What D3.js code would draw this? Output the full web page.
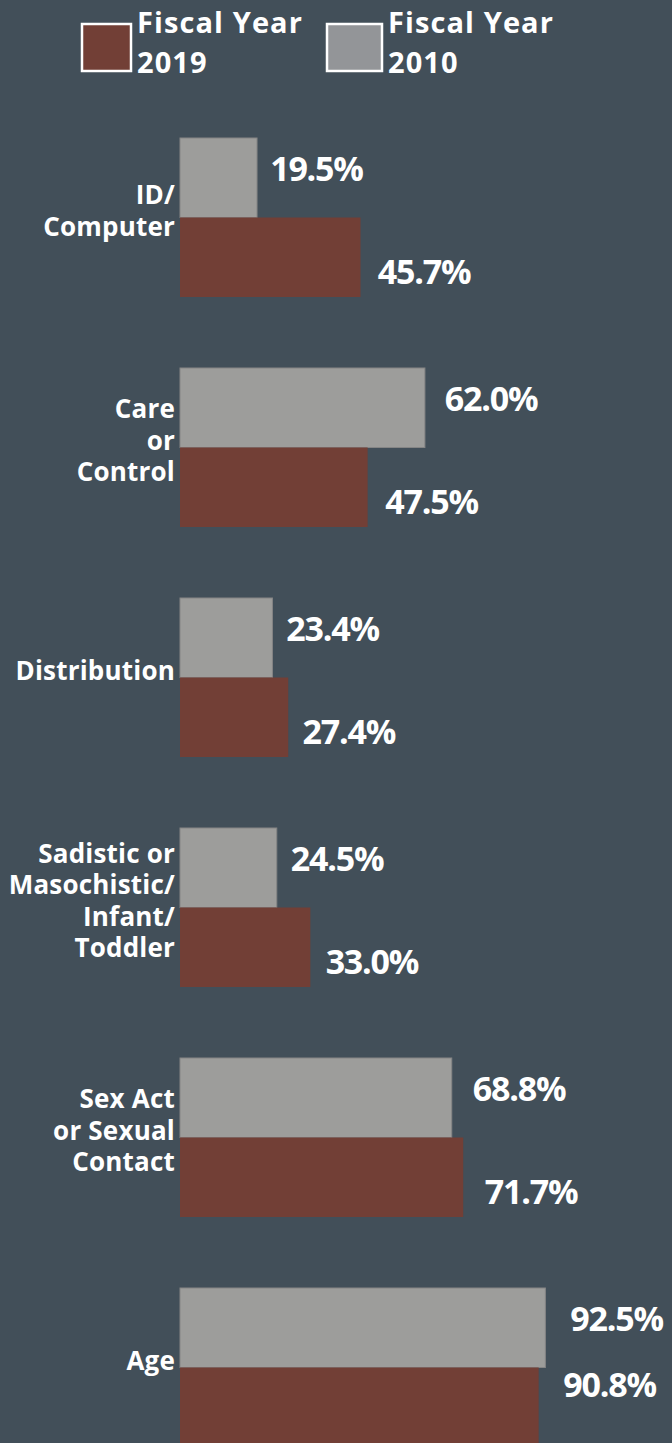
<!DOCTYPE html>
<html>
<head>
<meta charset="utf-8">
<script src="https://cdn.jsdelivr.net/npm/d3@7"></script>
<style>
  html, body { margin: 0; padding: 0; background: #424f59; }
  svg { display: block; }
  text { font-family: "Open Sans", sans-serif; font-weight: 700; fill: #fff; }
</style>
</head>
<body>
<script>
// categories, one line per array entry
var categories = [
  ["ID/", "Computer"],
  ["Care", "or", "Control"],
  ["Distribution"],
  ["Sadistic or", "Masochistic/", "Infant/", "Toddler"],
  ["Sex Act", "or Sexual", "Contact"],
  ["Age"]
];
var fy2010 = [19.5, 62.0, 23.4, 24.5, 68.8, 92.5];
var fy2019 = [45.7, 47.5, 27.4, 33.0, 71.7, 90.8];
var seriesNames = [["Fiscal Year", "2019"], ["Fiscal Year", "2010"]];

var W = 672, H = 1443;
var colBrown = "#723f36", colGray = "#9d9d9b";

var svg = d3.select("body").append("svg")
  .attr("width", W)
  .attr("height", H);

var x = d3.scaleLinear().domain([0, 100]).range([180, 575]);

// step 230, pair of bars 159 tall
var n = categories.length;
var y = d3.scaleBand()
  .domain(d3.range(n))
  .range([138, 138 + 230 * (n - 1) + 159])
  .paddingInner(71 / 230)
  .paddingOuter(0);

var barH = y.bandwidth() / 2;

// legend
var legend = svg.append("g");
var legendItems = [
  { name: seriesNames[0], color: colBrown, x: 82, w: 49 },
  { name: seriesNames[1], color: "#939598", x: 327, w: 55 }
];
legendItems.forEach(function (d) {
  legend.append("rect")
    .attr("x", d.x).attr("y", 24)
    .attr("width", d.w).attr("height", 47)
    .attr("fill", d.color)
    .attr("stroke", "#fff")
    .attr("stroke-width", 2.5);
  legend.append("text")
    .attr("x", d.x + d.w + 6)
    .attr("y", 33)
    .style("font-size", "29px")
    .style("letter-spacing", "1.1px")
    .text(d.name[0]);
  legend.append("text")
    .attr("x", d.x + d.w + 6)
    .attr("y", 73)
    .style("font-size", "29px")
    .style("letter-spacing", "1.1px")
    .text(d.name[1]);
});

var groups = svg.selectAll(".grp")
  .data(categories)
  .enter().append("g")
  .attr("class", "grp");

// 2010 bars (top)
groups.append("rect")
  .attr("x", x(0))
  .attr("y", function (d, i) { return y(i); })
  .attr("width", function (d, i) { return x(fy2010[i]) - x(0); })
  .attr("height", barH)
  .attr("fill", colGray)
  .attr("stroke", "#858585")
  .attr("stroke-width", 1);

// 2019 bars (bottom)
groups.append("rect")
  .attr("x", x(0))
  .attr("y", function (d, i) { return y(i) + barH; })
  .attr("width", function (d, i) { return x(fy2019[i]) - x(0); })
  .attr("height", barH)
  .attr("fill", colBrown);

// value labels
function labelOffset(v) { return 10 + v * 0.16; }

groups.append("text")
  .attr("x", function (d, i) { return x(fy2010[i]) + labelOffset(fy2010[i]); })
  .attr("y", function (d, i) { return y(i) + barH / 2 - 9; })
  .attr("dy", "0.36em")
  .style("font-size", "34px")
  .style("letter-spacing", "-1.2px")
  .text(function (d, i) { return fy2010[i].toFixed(1) + "%"; });

groups.append("text")
  .attr("x", function (d, i) { return x(fy2019[i]) + labelOffset(fy2019[i]); })
  // keep the lowest label inside the picture
  .attr("y", function (d, i) { return Math.min(y(i) + barH * 1.5 + 15, H - 58); })
  .attr("dy", "0.36em")
  .style("font-size", "34px")
  .style("letter-spacing", "-1.2px")
  .text(function (d, i) { return fy2019[i].toFixed(1) + "%"; });

// category labels
var lineH = 31.5;
groups.append("text")
  .attr("text-anchor", "end")
  .style("font-size", "26px")
  .style("letter-spacing", "0.2px")
  .each(function (d, i) {
    var t = d3.select(this);
    var cy = y(i) + y.bandwidth() / 2 - 7;
    var y0 = cy - (d.length - 1) * lineH / 2;
    d.forEach(function (line, k) {
      t.append("tspan")
        .attr("x", x(0) - 5)
        .attr("y", y0 + k * lineH)
        .attr("dy", "0.36em")
        .text(line);
    });
  });
</script>
</body>
</html>
